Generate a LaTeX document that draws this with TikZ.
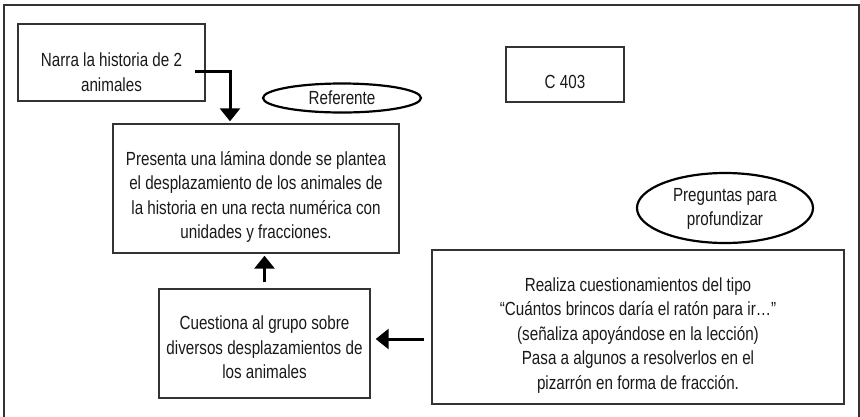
\documentclass[tikz,border=0pt]{standalone}
\usepackage{fontspec}
\setmainfont{Liberation Sans}[FakeStretch=0.8]
\usetikzlibrary{shapes.geometric,arrows.meta}
\begin{document}
\begin{tikzpicture}[x=1pt,y=-1pt,
  box/.style={draw=black!80, line width=1.4pt, inner sep=0pt},
  txt/.style={align=center, inner sep=0pt, text=black!90, font=\fontsize{19}{24.5}\selectfont},
  oval/.style={draw=black, ellipse, line width=2.2pt, inner sep=0pt},
  arr/.style={line width=3pt, draw=black, -{Triangle[length=13pt,width=20pt]}}]
\useasboundingbox (0,0) rectangle (860,416);
\draw[line width=1.4pt, draw=black!80] (4,420) -- (4,5) -- (859,5) -- (859,420);

\node[box, minimum width=187pt, minimum height=77pt] (narra) at (111.5,62.5) {};
\node[txt] (tnarra) at (111.5,72) {Narra la historia de 2\\animales};

\node[box, minimum width=286pt, minimum height=129pt] (main) at (256,188.5) {};
\node[txt] (tmain) at (256,197) {Presenta una lámina donde se plantea\\el desplazamiento de los animales de\\la historia en una recta numérica con\\unidades y fracciones.};

\node[box, minimum width=118pt, minimum height=55pt] (c403) at (565,74.5) {};
\node[txt] (tc403) at (565,82) {C 403};

\node[box, minimum width=211pt, minimum height=109pt] (cuest) at (264.5,343.5) {};
\node[txt] (tcuest) at (264.5,347.5) {Cuestiona al grupo sobre\\diversos desplazamientos de\\los animales};

\node[box, minimum width=412pt, minimum height=154pt] (realiza) at (638,327) {};
\node[txt] (trealiza) at (638,335.5) {Realiza cuestionamientos del tipo\\“Cuántos brincos daría el ratón para ir…”\\(señaliza apoyándose en la lección)\\Pasa a algunos a resolverlos en el\\pizarrón en forma de fracción.};

\node[oval, minimum width=158pt, minimum height=29pt] (ref) at (342,98) {};
\node[txt] (tref) at (342,98) {Referente};

\node[oval, minimum width=176pt, minimum height=70pt] (preg) at (725,208) {};
\node[txt] (tpreg) at (725,209) {Preguntas para\\profundizar};

\coordinate (a1) at (195,71);
\draw[arr, shorten >=2pt] (a1) -| ([xshift=-26pt]main.north);
\draw[arr, shorten >=2pt, shorten <=6pt] (cuest.north) -- (cuest.north |- main.south);
\coordinate (a3) at (424,339);
\draw[arr, shorten >=5pt] (a3) -- (cuest.east |- a3);
\end{tikzpicture}
\end{document}
